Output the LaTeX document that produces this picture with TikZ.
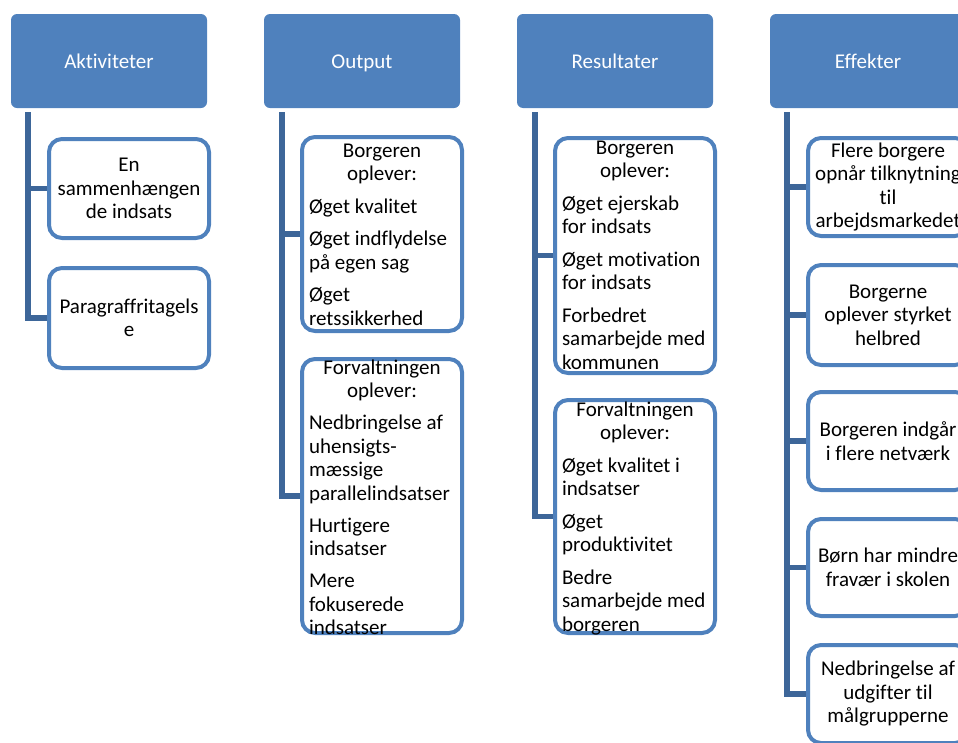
\documentclass[tikz,border=0pt]{standalone}
\usepackage{fontspec}
\setmainfont[Ligatures={NoCommon,NoRare,NoDiscretionary}]{Carlito}
\definecolor{accblue}{HTML}{4F81BD}
\definecolor{connblue}{HTML}{3D6699}
\begin{document}
\begin{tikzpicture}[x=1pt,y=-1pt,
  hdr/.style={fill=accblue, rounded corners=6pt, minimum width=196pt, minimum height=94pt, inner sep=0pt, text height=14.5pt, text depth=0pt, text=white, font=\fontsize{21}{23.5}\selectfont},
  cbox/.style={draw=accblue, line width=4pt, rounded corners=13pt, fill=white, minimum width=160pt, inner sep=0pt, align=center, font=\fontsize{21}{23.5}\selectfont},
  ctext/.style={inner sep=0pt, anchor=base, font=\fontsize{21}{23.5}\selectfont},
  conn/.style={draw=connblue, line width=5.5pt}]
\useasboundingbox (0,0) rectangle (958,742);
\clip (0,0) rectangle (958,742);

% headers
\node[hdr] (ha) at (109,61) {Aktiviteter};
\node[hdr] (ho) at (362,61) {Output};
\node[hdr] (hr) at (615,61) {Resultater};
\node[hdr] (he) at (868,61) {Effekter};

% child box positions
\coordinate (pa1) at (129,188.5);
\coordinate (pa2) at (129,318);
\coordinate (po1) at (382,234);
\coordinate (po2) at (382,496);
\coordinate (pr1) at (635,255.5);
\coordinate (pr2) at (635,516.5);

% invisible anchors for connectors
\path (pa1) node[cbox, minimum height=99pt, draw=none, fill=none] (a1) {};
\path (pa2) node[cbox, minimum height=100pt, draw=none, fill=none] (a2) {};
\path (po1) node[cbox, minimum height=194pt, draw=none, fill=none] (o1) {};
\path (po2) node[cbox, minimum height=274pt, draw=none, fill=none] (o2) {};
\path (pr1) node[cbox, minimum height=235pt, draw=none, fill=none] (r1) {};
\path (pr2) node[cbox, minimum height=233pt, draw=none, fill=none] (r2) {};
\path (888,187) node[cbox, minimum height=98pt, draw=none, fill=none] (e1) {};
\path (888,315) node[cbox, minimum height=100pt, draw=none, fill=none] (e2) {};
\path (888,441) node[cbox, minimum height=98pt, draw=none, fill=none] (e3) {};
\path (888,567.5) node[cbox, minimum height=97pt, draw=none, fill=none] (e4) {};
\path (888,694) node[cbox, minimum height=98pt, draw=none, fill=none] (e5) {};

\draw[conn] ([xshift=17pt,yshift=-4pt]ha.south west) |- (a1.west);
\draw[conn] ([xshift=17pt,yshift=-4pt]ha.south west) |- (a2.west);
\draw[conn] ([xshift=18pt,yshift=-4pt]ho.south west) |- (o1.west);
\draw[conn] ([xshift=18pt,yshift=-4pt]ho.south west) |- (o2.west);
\draw[conn] ([xshift=18pt,yshift=-4pt]hr.south west) |- (r1.west);
\draw[conn] ([xshift=18pt,yshift=-4pt]hr.south west) |- (r2.west);
\draw[conn] ([xshift=17pt,yshift=-4pt]he.south west) |- (e1.west);
\draw[conn] ([xshift=17pt,yshift=-4pt]he.south west) |- (e2.west);
\draw[conn] ([xshift=17pt,yshift=-4pt]he.south west) |- (e3.west);
\draw[conn] ([xshift=17pt,yshift=-4pt]he.south west) |- (e4.west);
\draw[conn] ([xshift=17pt,yshift=-4pt]he.south west) |- (e5.west);

% visible boxes
\node[cbox, minimum height=99pt] (a1b) at (pa1) {En\\sammenhængen\\de indsats};
\node[cbox, minimum height=100pt] (a2b) at (pa2) {Paragraffritagels\\e};

\node[cbox, minimum height=194pt] (o1b) at (po1) {};
\node[ctext] (o1t) at (382,157) {\parbox[t]{146pt}{\parskip=9pt\parindent=0pt\centering Borgeren\\oplever:\par\raggedright Øget kvalitet\par Øget indflydelse\\på egen sag\par Øget\\retssikkerhed}};
\node[cbox, minimum height=274pt] (o2b) at (po2) {};
\node[ctext] (o2t) at (382,374) {\parbox[t]{146pt}{\parskip=8.5pt\parindent=0pt\centering Forvaltningen\\oplever:\par\raggedright Nedbringelse af\\uhensigts-\\mæssige\\parallelindsatser\par Hurtigere\\indsatser\par Mere\\fokuserede\\indsatser}};

\node[cbox, minimum height=235pt] (r1b) at (pr1) {};
\node[ctext] (r1t) at (635,154) {\parbox[t]{146pt}{\parskip=9pt\parindent=0pt\centering Borgeren\\oplever:\par\raggedright Øget ejerskab\\for indsats\par Øget motivation\\for indsats\par Forbedret\\samarbejde med\\kommunen}};
\node[cbox, minimum height=233pt] (r2b) at (pr2) {};
\node[ctext] (r2t) at (635,416) {\parbox[t]{146pt}{\parskip=9pt\parindent=0pt\centering Forvaltningen\\oplever:\par\raggedright Øget kvalitet i\\indsatser\par Øget\\produktivitet\par Bedre\\samarbejde med\\borgeren}};

\node[cbox, minimum height=98pt] (e1b) at (e1) {Flere borgere\\opnår tilknytning\\til\\arbejdsmarkedet};
\node[cbox, minimum height=100pt] (e2b) at (e2) {Borgerne\\oplever styrket\\helbred};
\node[cbox, minimum height=98pt] (e3b) at (e3) {Borgeren indgår\\i flere netværk};
\node[cbox, minimum height=97pt] (e4b) at (e4) {Børn har mindre\\fravær i skolen};
\node[cbox, minimum height=98pt] (e5b) at (e5) {Nedbringelse af\\udgifter til\\målgrupperne};
\end{tikzpicture}
\end{document}
